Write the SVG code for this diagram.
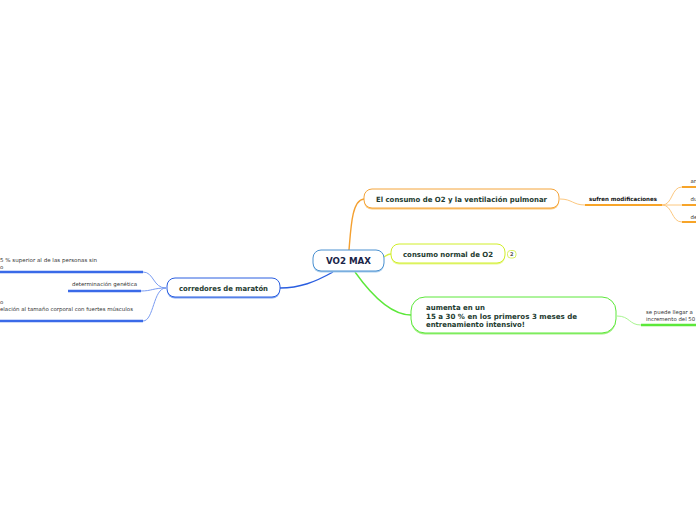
<svg xmlns="http://www.w3.org/2000/svg" width="696" height="520" viewBox="0 0 696 520">
<style>
.nt{font-family:"DejaVu Sans",Verdana,sans-serif;font-weight:bold;fill:#1d3b30}
.st{font-family:"DejaVu Sans",Verdana,sans-serif;font-size:5.4px;fill:#333}
.sb{font-family:"DejaVu Sans",Verdana,sans-serif;font-size:5.6px;font-weight:bold;fill:#111}
.c{fill:none}
</style>
<rect width="696" height="520" fill="#ffffff"/>
<g id="connectors">
<path class="c" d="M349,250 C351,226 352,200 364,199" stroke="#f4a030" stroke-width="1.4"/>
<path class="c" d="M384,257 C387,255 388,254 391,254" stroke="#d6f040" stroke-width="1.4"/>
<path class="c" d="M355,272 C375,300 394,315 411,315" stroke="#5ce83a" stroke-width="1.4"/>
<path class="c" d="M333,272 C315,282 300,288 280,288" stroke="#2a5ee0" stroke-width="1.4"/>
<path class="c" d="M560,199 C572,199 573,205 585,205" stroke="#fcc880" stroke-width="1"/>
<path class="c" d="M585,205 L662,205" stroke="#f7a428" stroke-width="2"/>
<path class="c" d="M662,205 C673,205 671,187 682,187" stroke="#fcc880" stroke-width="1"/>
<path class="c" d="M662,205 L682,205" stroke="#fcc880" stroke-width="1"/>
<path class="c" d="M662,205 C673,205 671,222 682,222" stroke="#fcc880" stroke-width="1"/>
<path class="c" d="M682,187 L696,187 M682,205 L696,205 M682,222 L696,222" stroke="#f7a428" stroke-width="2"/>
<path class="c" d="M617,316 C630,316 629,325 641,325" stroke="#a8f590" stroke-width="1"/>
<path class="c" d="M641,325 L696,325" stroke="#5ce83a" stroke-width="2.4"/>
<path class="c" d="M166,288 C153,288 154,272 143,272" stroke="#7a9cf2" stroke-width="1"/>
<path class="c" d="M166,288 C153,288 152,291 141,291" stroke="#7a9cf2" stroke-width="1"/>
<path class="c" d="M166,288 C153,288 154,321 143,321" stroke="#7a9cf2" stroke-width="1"/>
<path class="c" d="M0,272 L143,272 M68,291 L141,291 M0,321 L143,321" stroke="#3a6ae8" stroke-width="2.4"/>
</g>
<g id="vo2max">
<rect x="313" y="251.5" width="71" height="21" rx="8" fill="#a8cdee"/>
<rect x="313" y="250" width="71" height="21" rx="8" fill="#ffffff" stroke="#4a90d0" stroke-width="1"/>
<text class="nt" x="348.5" y="264" font-size="8.7" text-anchor="middle" style="fill:#1a2448" textLength="45" lengthAdjust="spacingAndGlyphs">VO2 MAX</text>
</g>
<g id="consumo-ventilacion">
<rect x="364" y="190.5" width="195" height="19" rx="8" fill="#fcc878"/>
<rect x="364" y="189" width="195" height="19" rx="8" fill="#ffffff" stroke="#f4a43a" stroke-width="1"/>
<text class="nt" x="376" y="201.5" font-size="7.2" textLength="171" lengthAdjust="spacingAndGlyphs">El consumo de O2 y la ventilación pulmonar</text>
</g>
<g id="consumo-normal">
<rect x="391" y="245.5" width="114" height="19" rx="8" fill="#e8f890"/>
<rect x="391" y="244" width="114" height="19" rx="8" fill="#ffffff" stroke="#d0ee28" stroke-width="1"/>
<text class="nt" x="403" y="256.5" font-size="7.2" textLength="90" lengthAdjust="spacingAndGlyphs">consumo normal de O2</text>
<rect x="507.5" y="250.5" width="8.5" height="7.5" rx="3" fill="#ffffff" stroke="#d8f060" stroke-width="1"/>
<text x="511.75" y="256.3" font-family="DejaVu Sans, sans-serif" font-size="5" font-weight="bold" fill="#555" text-anchor="middle">2</text>
</g>
<g id="aumenta">
<rect x="411" y="298.5" width="205" height="36" rx="14" fill="#a0f080"/>
<rect x="411" y="297" width="205" height="36" rx="14" fill="#ffffff" stroke="#5ce83a" stroke-width="1"/>
<text class="nt" x="426" y="310" font-size="7.2" textLength="59" lengthAdjust="spacingAndGlyphs">aumenta en un</text>
<text class="nt" x="426" y="318.5" font-size="7.2" textLength="151" lengthAdjust="spacingAndGlyphs">15 a 30 % en los primeros 3 meses de</text>
<text class="nt" x="426" y="327" font-size="7.2" textLength="99" lengthAdjust="spacingAndGlyphs">entrenamiento intensivo!</text>
</g>
<g id="corredores">
<rect x="167" y="279.5" width="113" height="19" rx="8" fill="#80a4f2"/>
<rect x="167" y="278" width="113" height="19" rx="8" fill="#ffffff" stroke="#2a5ee0" stroke-width="1"/>
<text class="nt" x="179" y="290.5" font-size="7.2" textLength="89" lengthAdjust="spacingAndGlyphs">corredores de maratón</text>
</g>
<g id="sufren">
<text class="sb" x="589" y="201" textLength="68" lengthAdjust="spacingAndGlyphs">sufren modificaciones</text>
</g>
<g id="an"><text class="st" x="690.5" y="183">an</text></g>
<g id="du"><text class="st" x="690.5" y="201">du</text></g>
<g id="de"><text class="st" x="690.5" y="219">de</text></g>
<g id="se-puede">
<text class="st" x="646" y="314">se puede llegar a</text>
<text class="st" x="646" y="320.5">incremento del 50</text>
</g>
<g id="superior">
<text class="st" x="0" y="262" textLength="97" lengthAdjust="spacingAndGlyphs">5 % superior al de las personas sin</text>
<text class="st" x="0" y="268.5">o</text>
</g>
<g id="genetica">
<text class="st" x="72" y="286" textLength="65" lengthAdjust="spacingAndGlyphs">determinación genética</text>
</g>
<g id="relacion">
<text class="st" x="0" y="303.5">o</text>
<text class="st" x="0" y="311" textLength="133" lengthAdjust="spacingAndGlyphs">elación al tamaño corporal con fuertes músculos</text>
</g>
</svg>
